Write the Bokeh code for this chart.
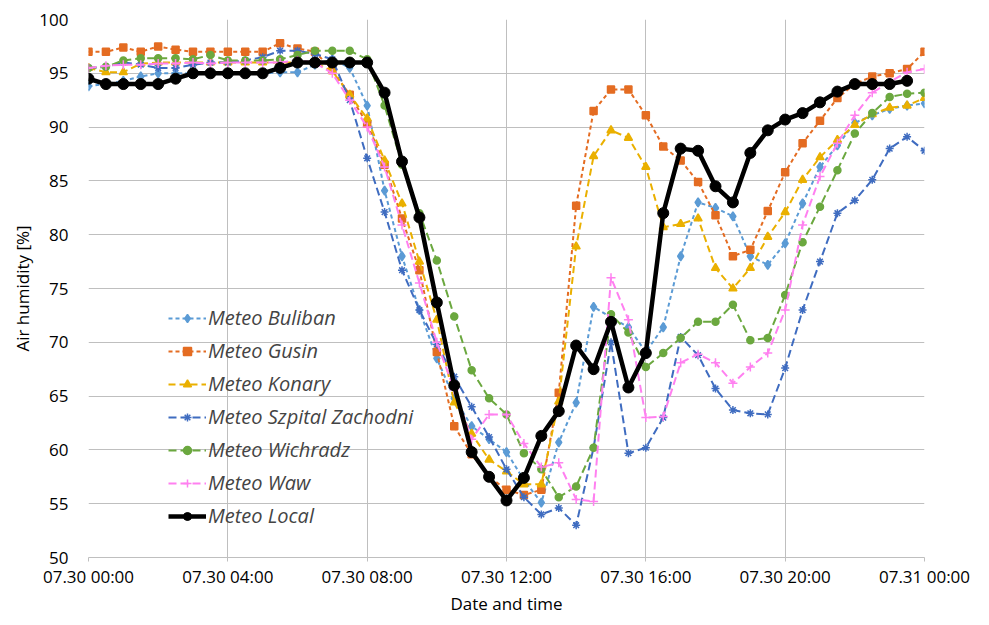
import pandas as pd
from bokeh.plotting import figure
from bokeh.models import (Range1d, FixedTicker, Legend, LegendItem,
                          ColumnDataSource, DatetimeTickFormatter)
from bokeh.embed import file_html
from bokeh.resources import INLINE

# ---- data -------------------------------------------------------------
times = pd.date_range("2016-07-30 00:00", "2016-07-31 00:00", freq="30min")

buliban = [93.8, 94.0, 94.3, 94.7, 95.0, 95.0, 95.0, 95.0, 95.0, 95.0, 95.0, 95.1,
           95.1, 95.8, 96.3, 95.5, 92.0, 84.1, 78.0, 73.0, 68.5, 64.8, 62.2, 61.0,
           59.8, 57.2, 55.1, 60.7, 64.4, 73.3, 72.3, 71.4, 69.1, 71.4, 78.0, 83.0,
           82.5, 81.7, 78.0, 77.2, 79.2, 82.9, 86.3, 88.3, 90.4, 91.1, 91.7, 92.0, 92.2]
gusin = [97.0, 97.0, 97.4, 97.0, 97.5, 97.2, 97.0, 97.0, 97.0, 97.0, 97.0, 97.8,
         97.3, 97.0, 95.3, 93.0, 90.3, 86.5, 81.5, 76.7, 69.1, 62.2, 59.6, 57.5,
         56.3, 55.8, 56.3, 65.3, 82.7, 91.5, 93.5, 93.5, 91.1, 88.2, 86.9, 84.9,
         81.8, 78.0, 78.6, 82.2, 85.8, 88.5, 90.6, 92.7, 94.0, 94.7, 95.0, 95.4, 97.0]
konary = [95.5, 95.1, 95.1, 95.9, 96.0, 96.0, 96.0, 96.0, 96.0, 96.0, 96.0, 96.0,
          96.0, 96.0, 95.2, 93.0, 90.8, 86.9, 82.9, 77.5, 72.1, 64.4, 61.5, 59.1,
          58.0, 56.8, 56.8, 64.5, 78.9, 87.3, 89.7, 89.0, 86.3, 80.7, 81.0, 81.5,
          76.9, 75.0, 76.9, 79.8, 82.1, 85.1, 87.2, 88.8, 90.2, 91.2, 91.8, 92.0, 92.7]
szpital = [95.5, 95.6, 96.0, 95.8, 95.5, 95.5, 95.8, 96.0, 96.0, 96.2, 96.5, 97.1,
           97.1, 96.8, 96.3, 92.5, 87.1, 82.1, 76.7, 73.0, 69.8, 66.8, 64.0, 61.2,
           58.2, 55.6, 54.0, 54.6, 53.0, 60.2, 70.0, 59.7, 60.2, 63.0, 70.5, 68.8,
           65.7, 63.7, 63.4, 63.3, 67.6, 73.0, 77.5, 82.0, 83.2, 85.1, 88.0, 89.1, 87.8]
wichradz = [95.5, 95.6, 96.2, 96.4, 96.4, 96.4, 96.3, 96.7, 96.2, 96.2, 96.2, 96.3,
            96.7, 97.1, 97.1, 97.1, 96.3, 92.0, 86.5, 82.0, 77.6, 72.4, 67.4, 64.8,
            63.3, 59.7, 58.2, 55.6, 56.6, 60.2, 72.6, 70.9, 67.7, 69.0, 70.4, 71.9,
            71.9, 73.5, 70.2, 70.4, 74.4, 79.3, 82.6, 86.0, 89.4, 91.3, 92.8, 93.1, 93.2]
waw = [95.5, 95.7, 95.8, 95.8, 95.9, 95.9, 96.0, 95.9, 96.0, 96.0, 96.0, 96.0,
       96.2, 96.0, 95.0, 92.5, 90.0, 86.3, 80.9, 75.5, 70.0, 65.6, 61.0, 63.3,
       63.3, 60.6, 58.4, 58.8, 55.4, 55.2, 76.0, 72.1, 63.0, 63.1, 68.1, 68.9,
       68.1, 66.2, 67.7, 69.0, 73.0, 80.9, 85.4, 88.5, 91.1, 93.2, 94.2, 95.1, 95.4]
local = [94.5, 94.0, 94.0, 94.0, 94.0, 94.5, 95.0, 95.0, 95.0, 95.0, 95.0, 95.5,
         96.0, 96.0, 96.0, 96.0, 96.0, 93.2, 86.8, 81.6, 73.7, 66.0, 59.8, 57.5,
         55.3, 57.4, 61.3, 63.6, 69.7, 67.5, 71.9, 65.8, 69.0, 82.0, 88.0, 87.8,
         84.5, 83.0, 87.6, 89.7, 90.7, 91.3, 92.3, 93.3, 94.0, 94.0, 94.0, 94.3]

series_names = ["Meteo Buliban", "Meteo Gusin", "Meteo Konary",
                "Meteo Szpital Zachodni", "Meteo Wichradz", "Meteo Waw"]
x_tick_labels = ["07.30 00:00", "07.30 04:00", "07.30 08:00", "07.30 12:00",
                 "07.30 16:00", "07.30 20:00", "07.31 00:00"]
y_ticks = [50, 55, 60, 65, 70, 75, 80, 85, 90, 95, 100]

# ---- styling ----------------------------------------------------------
FONT = "Open Sans"
styles = [
    dict(color="#5B9BD5", marker="diamond", size=9, dash="4 3"),
    dict(color="#E46C22", marker="square", size=7, dash="4 3"),
    dict(color="#EAB000", marker="triangle", size=8, dash="7 4"),
    dict(color="#3F6CC0", marker="asterisk", size=8, dash="8 4"),
    dict(color="#6BA83F", marker="circle", size=7, dash="8 4"),
    dict(color="#FF80F0", marker="cross", size=9, dash="8 4"),
]

tick_dt = [pd.to_datetime("2016." + t, format="%Y.%m.%d %H:%M") for t in x_tick_labels]
tick_ms = [t.value // 10**6 for t in tick_dt]

p = figure(width=981, height=617, output_backend="svg", toolbar_location=None,
           x_axis_type="datetime",
           x_range=Range1d(tick_dt[0], tick_dt[-1]),
           y_range=Range1d(y_ticks[0], y_ticks[-1]),
           min_border_left=88, min_border_right=57,
           min_border_top=19, min_border_bottom=59)
p.outline_line_color = None
p.background_fill_color = "white"
p.border_fill_color = "white"

p.xaxis.ticker = FixedTicker(ticks=tick_ms)
fmt = "%m.%d %H:%M"
p.xaxis.formatter = DatetimeTickFormatter(
    milliseconds=fmt, seconds=fmt, minsec=fmt, minutes=fmt, hourmin=fmt,
    hours=fmt, days=fmt, months=fmt, years=fmt)
p.yaxis.ticker = FixedTicker(ticks=y_ticks)

for ax in (p.xaxis[0], p.yaxis[0]):
    ax.major_label_text_font = FONT
    ax.major_label_text_font_size = "17px"
    ax.major_label_text_color = "#000000"
    ax.axis_label_text_font = FONT
    ax.axis_label_text_font_size = "17px"
    ax.axis_label_text_font_style = "normal"
    ax.axis_label_text_color = "#000000"
    ax.minor_tick_line_color = None

p.xaxis.axis_label = "Date and time"
p.xaxis.axis_line_color = "#BFBFBF"
p.xaxis.major_tick_line_color = "#BFBFBF"
p.xaxis.major_tick_out = 4
p.xaxis.major_tick_in = 0
p.xaxis.major_label_standoff = 3
p.xaxis.axis_label_standoff = 1

p.yaxis.axis_label = "Air humidity [%]"
p.yaxis.axis_line_color = None
p.yaxis.major_tick_line_color = None
p.yaxis.major_tick_out = 0
p.yaxis.major_tick_in = 0
p.yaxis.major_label_standoff = 20
p.yaxis.axis_label_standoff = 2

p.xgrid.grid_line_color = "#BFBFBF"
p.ygrid.grid_line_color = "#BFBFBF"

items = []
all_series = [buliban, gusin, konary, szpital, wichradz, waw]
for name, vals, st in zip(series_names, all_series, styles):
    src = ColumnDataSource(dict(t=times[:len(vals)], v=vals))
    r1 = p.line("t", "v", source=src, line_color=st["color"], line_width=2,
                line_dash=st["dash"])
    r2 = p.scatter("t", "v", source=src, marker=st["marker"], size=st["size"],
                   fill_color=st["color"], line_color=st["color"], line_width=1.5)
    items.append(LegendItem(label=name, renderers=[r1, r2]))

src = ColumnDataSource(dict(t=times[:len(local)], v=local))
r1 = p.line("t", "v", source=src, line_color="black", line_width=4.5)
r2 = p.scatter("t", "v", source=src, marker="circle", size=11,
               fill_color="black", line_color="black")
items.append(LegendItem(label="Meteo Local", renderers=[r1, r2]))

legend = Legend(items=items, location=(80, 25))
legend.background_fill_alpha = 0
legend.border_line_color = None
legend.glyph_width = 38
legend.glyph_height = 20
legend.label_standoff = 2
legend.spacing = 0
legend.label_height = 33
legend.padding = 0
legend.margin = 0
legend.label_text_font = FONT
legend.label_text_font_size = "20px"
legend.label_text_font_style = "italic"
p.add_layout(legend)

open("out.html", "w").write(file_html(p, INLINE))
